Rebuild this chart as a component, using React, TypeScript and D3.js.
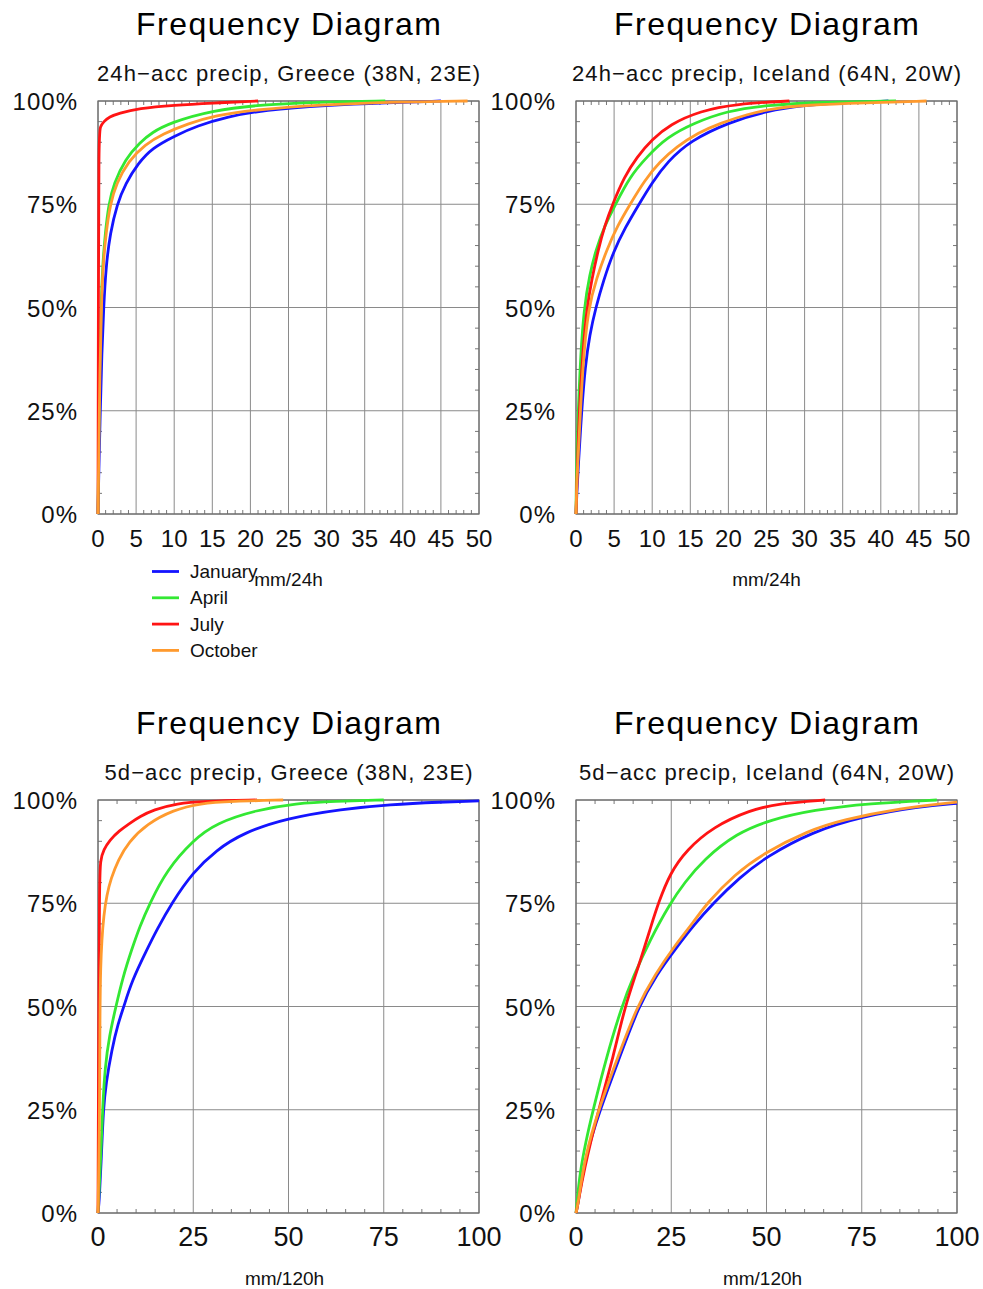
import * as d3 from "d3";

type Pt = [number, number];

const months = ["January", "April", "July", "October"];
const monthColors = ["#1414ff", "#33e833", "#ff1414", "#ff9a2e"];
const percentTicks = [0, 25, 50, 75, 100];
const ticks24 = [0, 5, 10, 15, 20, 25, 30, 35, 40, 45, 50];
const ticks120 = [0, 25, 50, 75, 100];

// [mm, cumulative %]
const greece24Jan: Pt[] = [[0, 0], [0.1, 10], [0.3, 25], [0.5, 39], [0.74, 50], [1.05, 60], [1.6, 68], [2.5, 75], [3.6, 80], [5.3, 85], [7.1, 88.6], [10, 91.5], [13, 94], [17, 96.2], [21.7, 97.8], [30, 99], [38, 99.6], [45, 100]];
const greece24Apr: Pt[] = [[0, 0], [0.1, 20], [0.25, 40], [0.4, 50], [0.6, 60], [0.95, 68], [1.4, 75], [2.06, 80], [3.6, 86], [5.5, 90], [7.1, 92.4], [9.4, 94.7], [15, 97.8], [22, 99.2], [30, 99.8], [37.7, 100]];
const greece24Jul: Pt[] = [[0, 0], [0.05, 50], [0.1, 92], [0.3, 93.8], [0.74, 95], [1.5, 96.2], [2.7, 97], [5.3, 98.2], [10, 99], [15, 99.5], [21, 100]];
const greece24Oct: Pt[] = [[0, 0], [0.1, 15], [0.25, 35], [0.44, 50], [0.65, 60], [1.05, 68], [1.6, 75], [2.4, 80], [4, 85.5], [6.2, 89.5], [8.5, 92], [11.7, 94.5], [15.5, 96.5], [20, 97.8], [30, 99.2], [40, 99.8], [48.5, 100]];

const iceland24Jan: Pt[] = [[0, 0], [0.1, 5], [0.3, 11.5], [0.74, 25], [1.2, 35.7], [1.8, 43.5], [2.6, 50], [3.6, 56.5], [4.9, 63.5], [6.5, 69.5], [8.2, 74.8], [10, 80.3], [12, 85.3], [15, 90.4], [20, 94.8], [25, 97.6], [30, 99], [35, 99.6], [41, 100]];
const iceland24Apr: Pt[] = [[0, 0], [0.05, 11.5], [0.5, 35.7], [1.05, 50], [1.8, 58], [2.6, 63.9], [3.8, 70], [5.2, 75], [7, 81.5], [9.3, 86.5], [12, 91.3], [15.4, 94.6], [19.8, 97.6], [25, 99], [32, 99.7], [42, 100]];
const iceland24Jul: Pt[] = [[0, 0], [0.3, 19.5], [0.74, 35.7], [1.4, 50], [2.1, 57], [2.9, 63.9], [3.8, 70], [4.8, 75], [6.3, 81.5], [8, 86.5], [10, 90.7], [12.3, 94.3], [16.3, 97.6], [21, 99.3], [28, 100]];
const iceland24Oct: Pt[] = [[0, 0], [0.1, 8], [0.44, 19.5], [0.87, 35.7], [1.6, 50], [2.7, 57], [4, 63.9], [5.5, 70], [7.1, 75], [9, 80.8], [11, 85.3], [13.2, 88.9], [16, 92.3], [18.9, 94.6], [22.5, 96.8], [25.9, 98.2], [30, 99], [38, 99.6], [46, 100]];

const greece120Jan: Pt[] = [[0, 0], [0.35, 3], [0.96, 15.3], [1.4, 25], [2.1, 31.4], [3.6, 39.5], [5.3, 46], [6.8, 50], [8.8, 56], [12.8, 63.7], [15.4, 68.5], [19.3, 75], [25, 82.6], [31.1, 87.9], [38, 92], [49.5, 95.6], [64, 97.8], [76.6, 98.9], [90, 99.5], [100, 99.8]];
const greece120Apr: Pt[] = [[0, 0], [0.3, 5.6], [0.8, 15.3], [1.2, 25], [1.84, 35.4], [3, 43], [4.7, 50], [6.5, 57], [8.8, 63.7], [11, 69.5], [13.6, 75], [18, 83], [25, 90.3], [31, 94.4], [41.7, 97.6], [52, 99.2], [62, 99.7], [75, 100]];
const greece120Jul: Pt[] = [[0, 0], [0.2, 50], [0.4, 80], [0.6, 85.5], [1.5, 88], [3.1, 90.3], [5.5, 92.5], [8.4, 94.4], [11, 96], [14.5, 97.6], [20.7, 99.2], [28, 99.7], [41.7, 100]];
const greece120Oct: Pt[] = [[0, 0], [0.4, 20], [0.5, 50], [0.7, 60], [1, 66], [1.5, 72], [2.3, 77], [3.4, 81], [5.3, 85.5], [8, 89.8], [12.8, 94.2], [19.8, 97.6], [26.8, 99.2], [35, 99.7], [48.6, 100]];

const iceland120Jan: Pt[] = [[0, 0], [0.5, 2], [2.4, 13.6], [6.3, 25], [11.5, 37.8], [16.4, 50], [21.2, 57.8], [26.4, 64.3], [31, 69.8], [36, 75], [43, 81.3], [50, 86.3], [62, 92.3], [75, 96], [90, 98.4], [100, 99.2]];
const iceland120Apr: Pt[] = [[0, 0], [0.3, 3], [1.05, 9.7], [2.5, 17], [4.5, 25], [8, 37.8], [12, 50], [15, 57.2], [19.4, 66.1], [24.7, 75], [28.5, 80], [33.4, 85.5], [42.2, 92], [51, 95.2], [62.3, 97.6], [77, 99.2], [94.7, 100]];
const iceland120Jul: Pt[] = [[0, 0], [0.5, 2], [1.9, 9.7], [5.9, 25], [9.8, 37.8], [12.8, 50], [16.4, 59.6], [19.9, 70.1], [21.6, 75], [24.7, 82.3], [29, 87.9], [36, 93.5], [45.7, 97.6], [53.5, 99.2], [65.4, 100]];
const iceland120Oct: Pt[] = [[0, 0], [0.5, 2], [2.3, 13.6], [5.9, 25], [11, 37.8], [16, 50], [20.8, 57.8], [25.8, 64.6], [31, 70.6], [34.3, 75], [41.7, 82], [49, 87], [61, 92.6], [70, 95.2], [85, 98], [100, 99.5]];

const FONT = '"Liberation Sans", Arial, Helvetica, sans-serif';
const PW = 381;
const PH = 413;

type PanelProps = {
  left: number;
  top: number;
  subtitle: string;
  subLen: number;
  xMax: number;
  xTicks: number[];
  minorStep: number;
  xLabel: string;
  labelShift: number;
  tickSize: number;
  series: Pt[][];
  legend?: boolean;
};

function Panel(p: PanelProps) {
  const x = d3.scaleLinear().domain([0, p.xMax]).range([0, PW]);
  const y = d3.scaleLinear().domain([0, 100]).range([PH, 0]);
  const line = d3
    .line<Pt>()
    .x((d) => x(d[0]))
    .y((d) => y(d[1]))
    .curve(d3.curveBasis);

  const xMinor = d3.range(0, p.xMax + 1e-9, p.minorStep).filter((v) => !p.xTicks.includes(v));
  const yMinor = d3.range(0, 100.001, 5).filter((v) => !percentTicks.includes(v));
  const tk = 4;

  return (
    <g transform={`translate(${p.left},${p.top})`} fontFamily={FONT}>
      <text x={PW / 2} y={-66} textAnchor="middle" fontSize={32} textLength={305} lengthAdjust="spacing" fill="#000">
        Frequency Diagram
      </text>
      <text x={PW / 2} y={-20} textAnchor="middle" fontSize={22} textLength={p.subLen} lengthAdjust="spacing" fill="#111">
        {p.subtitle}
      </text>

      {/* grid */}
      {p.xTicks.map((t) => (
        <line key={"gx" + t} x1={x(t)} x2={x(t)} y1={0} y2={PH} stroke="#8a8a8a" strokeWidth={1} />
      ))}
      {percentTicks.map((t) => (
        <line key={"gy" + t} x1={0} x2={PW} y1={y(t)} y2={y(t)} stroke="#8a8a8a" strokeWidth={1} />
      ))}
      {/* minor ticks */}
      {xMinor.map((t) => (
        <g key={"mx" + t}>
          <line x1={x(t)} x2={x(t)} y1={PH} y2={PH - tk} stroke="#777" />
          <line x1={x(t)} x2={x(t)} y1={0} y2={tk} stroke="#777" />
        </g>
      ))}
      {yMinor.map((t) => (
        <g key={"my" + t}>
          <line x1={0} x2={tk} y1={y(t)} y2={y(t)} stroke="#777" />
          <line x1={PW} x2={PW - tk} y1={y(t)} y2={y(t)} stroke="#777" />
        </g>
      ))}
      <rect x={0} y={0} width={PW} height={PH} fill="none" stroke="#6a6a6a" strokeWidth={1.2} />

      {/* tick labels */}
      {percentTicks.map((t) => (
        <text key={"ly" + t} x={-20} y={y(t) + 9} textAnchor="end" fontSize={24} letterSpacing={1} fill="#111">
          {t}%
        </text>
      ))}
      {p.xTicks.map((t) => (
        <text key={"lx" + t} x={x(t)} y={PH + 33} textAnchor="middle" fontSize={p.tickSize} fill="#111">
          {t}
        </text>
      ))}
      <text x={PW / 2 + p.labelShift} y={PH + 72} textAnchor="middle" fontSize={19} fill="#111">
        {p.xLabel}
      </text>

      {/* curves */}
      {p.series.map((s, i) => (
        <path key={"s" + i} d={line(s) || ""} fill="none" stroke={monthColors[i]} strokeWidth={2.8} strokeLinejoin="round" />
      ))}

      {p.legend &&
        months.map((m, i) => (
          <g key={m} transform={`translate(${54},${PH + 57.5 + i * 26.3})`}>
            <line x1={0} x2={27} y1={0} y2={0} stroke={monthColors[i]} strokeWidth={2.8} />
            <text x={38} y={6.5} fontSize={19} fill="#111">
              {m}
            </text>
          </g>
        ))}
    </g>
  );
}

export default function App() {
  return (
    <svg
      width={983}
      height={1289}
      style={{ position: "absolute", left: 0, top: 0, background: "#fff" }}
    >
      <rect width={983} height={1289} fill="#fff" />
      <Panel
        left={98}
        top={101}
        subtitle="24h−acc precip, Greece (38N, 23E)"
        subLen={383}
        xMax={50}
        xTicks={ticks24}
        minorStep={1}
        xLabel="mm/24h"
        labelShift={0}
        tickSize={24}
        series={[greece24Jan, greece24Apr, greece24Jul, greece24Oct]}
        legend
      />
      <Panel
        left={576}
        top={101}
        subtitle="24h−acc precip, Iceland (64N, 20W)"
        subLen={389}
        xMax={50}
        xTicks={ticks24}
        minorStep={1}
        xLabel="mm/24h"
        labelShift={0}
        tickSize={24}
        series={[iceland24Jan, iceland24Apr, iceland24Jul, iceland24Oct]}
      />
      <Panel
        left={98}
        top={800}
        subtitle="5d−acc precip, Greece (38N, 23E)"
        subLen={368}
        xMax={100}
        xTicks={ticks120}
        minorStep={5}
        xLabel="mm/120h"
        labelShift={-4}
        tickSize={27}
        series={[greece120Jan, greece120Apr, greece120Jul, greece120Oct]}
      />
      <Panel
        left={576}
        top={800}
        subtitle="5d−acc precip, Iceland (64N, 20W)"
        subLen={375}
        xMax={100}
        xTicks={ticks120}
        minorStep={5}
        xLabel="mm/120h"
        labelShift={-4}
        tickSize={27}
        series={[iceland120Jan, iceland120Apr, iceland120Jul, iceland120Oct]}
      />
    </svg>
  );
}
